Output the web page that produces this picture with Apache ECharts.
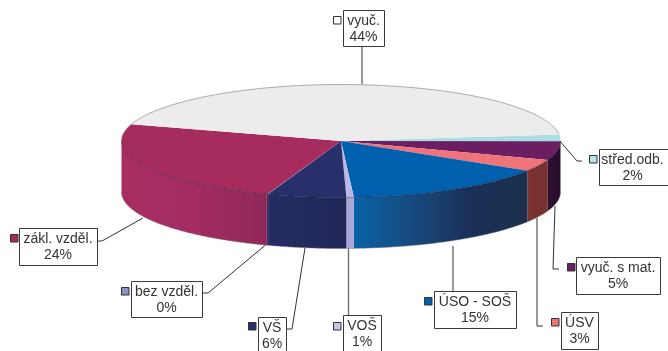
<!DOCTYPE html>
<html><head><meta charset="utf-8">
<style>html,body{margin:0;padding:0;background:#fff}#c{width:668px;height:351px}</style>
<script src="https://cdn.jsdelivr.net/npm/echarts@6/dist/echarts.min.js"></script>
</head><body><div id="c"></div>
<script>
// Data, clockwise from the first slice
const categories = ['střed.odb.', 'vyuč. s mat.', 'ÚSV', 'ÚSO - SOŠ', 'VOŠ', 'VŠ', 'bez vzděl.', 'zákl. vzděl.', 'vyuč.'];
const shares = [1.9, 5.4, 3.4, 15.3, 0.55, 5.8, 0.1, 24.4, 43.55];

// Styles
const topColors = ['#a9dfe3', '#6b1e62', '#f1737a', '#0060ad', '#bdb9e6', '#28306c', '#5a4a88', '#a62c5e', '#ececec'];
const keyColors = ['#b5e3ea', '#6b1e62', '#f1737a', '#0060ad', '#c8c6e8', '#28306c', '#8e90c8', '#a62c5e', '#ffffff'];
const wallStops = [
  ['#8fc0c4', '#8fc0c4'], ['#2e1033', '#260d2c'], ['#7c3331', '#743030'],
  ['#0862a6', '#174a7e', '#1a3058', '#1c2f4c'], ['#a9a6d8', '#a9a6d8'],
  ['#252c62', '#212858'], ['#3a2a5c', '#3a2a5c'], ['#a82e62', '#a42c60', '#8f2858'], ['#cccccc', '#cccccc']
];
// Layout: box [x0,y0,x1,y1], key [x,y], leader polyline
const boxes = [
  [599, 149, 672, 185], [576, 257, 660, 294], [561, 312, 598, 349], [434, 291, 516, 328], [343, 315, 381, 356],
  [258, 317, 286, 356], [131, 281, 202, 317], [19, 228, 97, 265], [343, 10, 384, 46]
];
const keys = [[589, 155], [567, 263], [551, 318], [424, 297], [333, 322], [248, 322], [121, 287], [10, 234], [333, 16]];
const leaders = [
  [[559, 140], [577, 161], [582, 161]],
  [[555, 206], [553, 269], [559, 269]],
  [[537, 218], [537, 326], [543, 326]],
  [[453, 246], [453, 291]],
  [[348.5, 248], [348.5, 315]],
  [[305, 248], [292, 329], [286, 329]],
  [[265.5, 245], [208, 293], [202, 293]],
  [[143, 218], [102, 241], [97, 241]],
  [[362, 84], [362, 46]]
];
const CX = 341, CY = 141, RX = 219.5, RY = 56.5, DEPTH = 51, START = -6.6;

const total = shares.reduce((a, b) => a + b, 0);
const bounds = [START];
shares.forEach(v => bounds.push(bounds[bounds.length - 1] + v / total * 360));

function arc(a0, a1, dy) {
  const pts = [], n = Math.max(2, Math.ceil(Math.abs(a1 - a0) * 1.5));
  for (let i = 0; i <= n; i++) {
    const a = (a0 + (a1 - a0) * i / n) * Math.PI / 180;
    pts.push([CX + RX * Math.cos(a), CY + RY * Math.sin(a) + dy]);
  }
  return pts;
}
const font = '14px "Liberation Sans", Arial, sans-serif';

function renderSlice(params, api) {
  const i = api.value(0), a0 = bounds[i], a1 = bounds[i + 1];
  const kids = [];
  // leader (under the pie edge)
  kids.push({ type: 'polyline', shape: { points: leaders[i] }, z2: 1,
    style: { stroke: i === 4 || i === 8 ? '#707070' : '#333', lineWidth: i === 4 || i === 8 ? 1.4 : 1, fill: null } });
  // front wall: only the part between 0 and 180 degrees shows
  const w0 = Math.max(a0, 0), w1 = Math.min(a1, 180);
  if (w1 > w0) {
    const top = arc(w0, w1, 0), bottom = arc(w0, w1, DEPTH).reverse();
    const xs = top.map(p => p[0]), xa = Math.min(...xs), xb = Math.max(...xs);
    const stops = wallStops[i].map((c, k, s) => ({ offset: k / (s.length - 1), color: c }));
    kids.push({ type: 'polygon', shape: { points: top.concat(bottom) }, z2: 2,
      style: { fill: new echarts.graphic.LinearGradient(xa, 0, xb, 0, stops, true), stroke: null } });
    kids.push({ type: 'polyline', shape: { points: arc(w0, w1, DEPTH) }, z2: 3,
      style: { stroke: 'rgba(120,120,120,0.45)', lineWidth: 1, fill: null } });
    kids.push({ type: 'polyline', shape: { points: top }, z2: 5,
      style: { stroke: 'rgba(20,15,40,0.4)', lineWidth: 1, fill: null } });
  }
  // top face
  kids.push({ type: 'polygon', shape: { points: [[CX, CY]].concat(arc(a0, a1, 0)) }, z2: 4,
    style: { fill: topColors[i], stroke: null } });
  if (a0 > 180 || a1 > 180) {
    kids.push({ type: 'polyline', shape: { points: arc(Math.max(a0, 180), a1, 0) }, z2: 5,
      style: { stroke: 'rgba(120,120,120,0.6)', lineWidth: 1, fill: null } });
  }
  // label box, key and text
  const b = boxes[i], k = keys[i];
  kids.push({ type: 'rect', shape: { x: b[0] + 0.5, y: b[1] + 0.5, width: b[2] - b[0], height: b[3] - b[1] }, z2: 6,
    style: { fill: '#fff', stroke: '#3a3a3a', lineWidth: 1 } });
  kids.push({ type: 'rect', shape: { x: k[0] + 0.5, y: k[1] + 0.5, width: 7.5, height: 7.5 }, z2: 6,
    style: { fill: keyColors[i], stroke: '#333', lineWidth: 1 } });
  kids.push({ type: 'text', z2: 7, x: (b[0] + Math.min(b[2], 668)) / 2 + (i === 0 ? -1 : 0), y: b[1] + 3,
    style: { text: categories[i] + '\n' + Math.round(api.value(1)) + '%', font, fill: '#333',
      align: 'center', verticalAlign: 'top', lineHeight: 16 } });
  return { type: 'group', children: kids };
}

const chart = echarts.init(document.getElementById('c'), null, { renderer: 'canvas' });
chart.setOption({
  animation: false,
  backgroundColor: '#fff',
  series: [{
    type: 'custom',
    coordinateSystem: 'none',
    silent: true,
    clip: false,
    renderItem: renderSlice,
    data: shares.map((v, i) => [i, v, categories[i]])
  }]
});
</script></body></html>
